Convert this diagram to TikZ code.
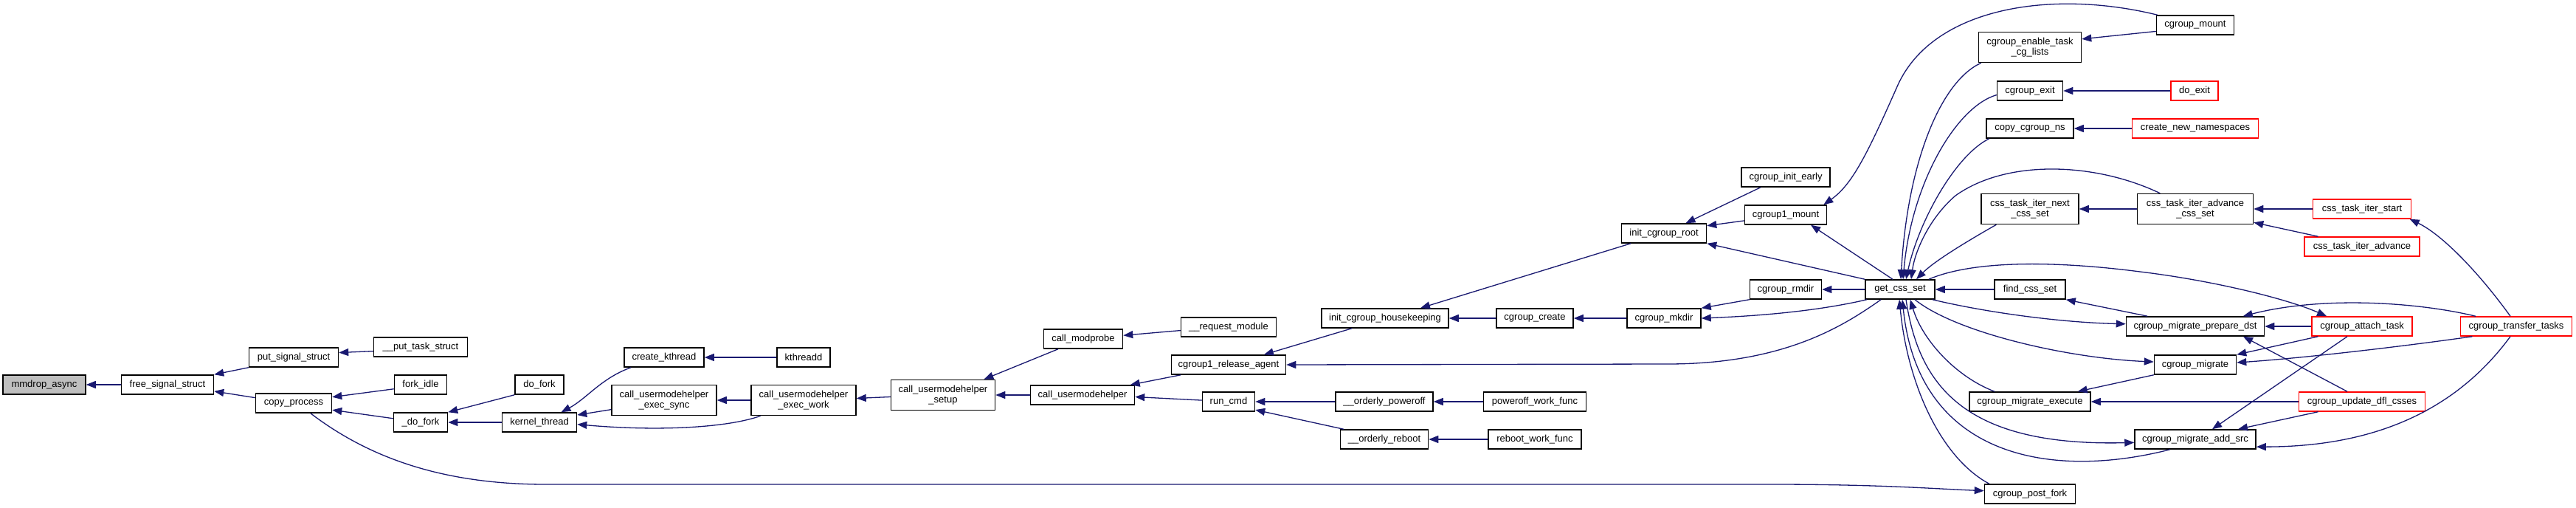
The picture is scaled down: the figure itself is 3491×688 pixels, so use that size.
\documentclass[tikz,border=0pt]{standalone}
\usepackage{fontspec}
\usepackage{tikz}
\usetikzlibrary{arrows.meta}
\newfontfamily\dxfont{Liberation Sans}
\definecolor{edgeblue}{RGB}{25,25,112}
\definecolor{rootgray}{RGB}{191,191,191}

\begin{document}
\begin{tikzpicture}[x=1pt,y=-1pt,
  fn/.style={draw=black,line width=1.5pt,fill=white,rectangle,minimum height=26pt,
    inner xsep=2pt,inner ysep=1pt,align=center,font=\dxfont\fontsize{13}{14.5}\selectfont},
  fntwo/.style={fn,minimum height=41pt},
  trunc/.style={draw=red},
  call/.style={draw=edgeblue,line width=1.3pt,-{Triangle[length=13pt,width=10pt]}}]
  \useasboundingbox (0,0) rectangle (3491,688);
  \node[fn,fill=rootgray,minimum width=112pt] (mmdrop) at (60,521) {mmdrop\_async};
  \node[fn,minimum width=125pt] (freesig) at (227,521) {free\_signal\_struct};
  \node[fn,minimum width=121pt] (putsig) at (398,484) {put\_signal\_struct};
  \node[fn,minimum width=127pt] (putts) at (570,470) {\_\_put\_task\_struct};
  \node[fn,minimum width=103pt] (copyproc) at (398,546) {copy\_process};
  \node[fn,minimum width=71pt] (forkidle) at (570,521) {fork\_idle};
  \node[fn,minimum width=73pt] (udofork) at (570,572) {\_do\_fork};
  \node[fn,minimum width=66pt] (dofork) at (731,521) {do\_fork};
  \node[fn,minimum width=101pt] (kthread) at (731,572) {kernel\_thread};
  \node[fn,minimum width=108pt] (createk) at (900,484) {create\_kthread};
  \node[fn,minimum width=72pt] (kthreadd) at (1089,484) {kthreadd};
  \node[fntwo,minimum width=142pt] (exsync) at (900,542) {call\_usermodehelper\\\_exec\_sync};
  \node[fntwo,minimum width=142pt] (exwork) at (1089,542) {call\_usermodehelper\\\_exec\_work};
  \node[fntwo,minimum width=141pt] (setup) at (1278,535) {call\_usermodehelper\\\_setup};
  \node[fn,minimum width=107pt] (modprobe) at (1468,459) {call\_modprobe};
  \node[fn,minimum width=129pt] (reqmod) at (1665,443) {\_\_request\_module};
  \node[fn,minimum width=141pt] (umh) at (1467,535) {call\_usermodehelper};
  \node[fn,minimum width=155pt] (relagent) at (1665,494) {cgroup1\_release\_agent};
  \node[fn,minimum width=71pt] (runcmd) at (1665,544) {run\_cmd};
  \node[fn,minimum width=172pt] (housek) at (1877,431) {init\_cgroup\_housekeeping};
  \node[fn,minimum width=132pt] (poweroff) at (1876,544) {\_\_orderly\_poweroff};
  \node[fn,minimum width=119pt] (reboot) at (1876,595) {\_\_orderly\_reboot};
  \node[fn,minimum width=104pt] (cgcreate) at (2080,431) {cgroup\_create};
  \node[fn,minimum width=139pt] (powerwf) at (2080,544) {poweroff\_work\_func};
  \node[fn,minimum width=126pt] (rebootwf) at (2080,595) {reboot\_work\_func};
  \node[fn,minimum width=100pt] (cgmkdir) at (2255,431) {cgroup\_mkdir};
  \node[fn,minimum width=115pt] (initroot) at (2255,316) {init\_cgroup\_root};
  \node[fn,minimum width=120pt] (initearly) at (2420,240) {cgroup\_init\_early};
  \node[fn,minimum width=111pt] (cgonemount) at (2420,291) {cgroup1\_mount};
  \node[fn,minimum width=97pt] (cgrmdir) at (2420,392) {cgroup\_rmdir};
  \node[fn,minimum width=94pt] (getcss) at (2575,392) {get\_css\_set};
  \node[fn,minimum width=105pt] (cgmount) at (2975,34) {cgroup\_mount};
  \node[fntwo,minimum width=139pt] (enabletask) at (2751,64) {cgroup\_enable\_task\\\_cg\_lists};
  \node[fn,minimum width=89pt] (cgexit) at (2751,123) {cgroup\_exit};
  \node[fn,trunc,minimum width=64pt] (doexit) at (2974,123) {do\_exit};
  \node[fn,minimum width=118pt] (copyns) at (2751,174) {copy\_cgroup\_ns};
  \node[fn,trunc,minimum width=171pt] (newns) at (2975,174) {create\_new\_namespaces};
  \node[fntwo,minimum width=132pt] (nextcss) at (2751,283) {css\_task\_iter\_next\\\_css\_set};
  \node[fntwo,minimum width=157pt] (advcss) at (2975,283) {css\_task\_iter\_advance\\\_css\_set};
  \node[fn,trunc,minimum width=133pt] (iterstart) at (3201,283) {css\_task\_iter\_start};
  \node[fn,trunc,minimum width=156pt] (iteradv) at (3201,334) {css\_task\_iter\_advance};
  \node[fn,minimum width=96pt] (findcss) at (2751,392) {find\_css\_set};
  \node[fn,minimum width=187pt] (prepdst) at (2975,442) {cgroup\_migrate\_prepare\_dst};
  \node[fn,minimum width=111pt] (migrate) at (2975,494) {cgroup\_migrate};
  \node[fn,minimum width=164pt] (execute) at (2751,544) {cgroup\_migrate\_execute};
  \node[fn,minimum width=164pt] (addsrc) at (2975,595) {cgroup\_migrate\_add\_src};
  \node[fn,minimum width=123pt] (postfork) at (2751,669) {cgroup\_post\_fork};
  \node[fn,trunc,minimum width=136pt] (attach) at (3201,442) {cgroup\_attach\_task};
  \node[fn,trunc,minimum width=171pt] (updfl) at (3201,544) {cgroup\_update\_dfl\_csses};
  \node[fn,trunc,minimum width=151pt] (transfer) at (3410,442) {cgroup\_transfer\_tasks};

  \draw[call] (freesig) -- (mmdrop);
  \draw[call] (putsig.south west) -- (freesig.north east);
  \draw[call] (copyproc.172) -- (freesig.-8);
  \draw[call] (putts.185) -- (putsig.6);
  \draw[call] (forkidle.189) -- (copyproc.9);
  \draw[call] (udofork.172) -- (copyproc.-10);
  \draw[call] (copyproc.-31) .. controls (500,620) and (600,656) .. (740,656) -- (2400,656)
    .. controls (2550,656) and (2620,662) .. (postfork.176);
  \draw[call] (dofork.south west) -- (udofork.north east);
  \draw[call] (kthread) -- (udofork);
  \draw[call] (createk.197) .. controls (815,512) and (795,540) .. (kthread.25);
  \draw[call] (exsync.190) -- (kthread.11);
  \draw[call] (exwork.200) .. controls (990,578) and (900,585) .. (kthread.-3);
  \draw[call] (kthreadd) -- (createk);
  \draw[call] (exwork) -- (exsync);
  \draw[call] (setup.182) -- (exwork.2);
  \draw[call] (modprobe.202) -- (setup.21);
  \draw[call] (umh) -- (setup);
  \draw[call] (reqmod.184) -- (modprobe.5);
  \draw[call] (relagent.192) -- (umh.12);
  \draw[call] (runcmd.177) -- (umh.-2);
  \draw[call] (housek.197) -- (relagent.16);
  \draw[call] (getcss.208) .. controls (2500,440) and (2420,493) .. (2260,493) -- (relagent.east);
  \draw[call] (poweroff) -- (runcmd);
  \draw[call] (reboot.166) -- (runcmd.-17);
  \draw[call] (powerwf) -- (poweroff);
  \draw[call] (rebootwf) -- (reboot);
  \draw[call] (initroot.197) -- (housek.16);
  \draw[call] (cgcreate) -- (housek);
  \draw[call] (cgmkdir) -- (cgcreate);
  \draw[call] (initearly.202) -- (initroot.25);
  \draw[call] (cgonemount.188) -- (initroot.10);
  \draw[call] (getcss.north west) -- (initroot.south east);
  \draw[call] (cgmount.165) .. controls (2780,-15) and (2620,10) .. (2572,115)
    .. controls (2530,210) and (2510,250) .. (cgonemount.15);
  \draw[call] (getcss.126) -- (cgonemount.-22);
  \draw[call] (cgrmdir.south west) -- (cgmkdir.north east);
  \draw[call] (getcss.197) .. controls (2460,422) and (2380,428) .. (cgmkdir.east);
  \draw[call] (getcss) -- (cgrmdir);
  \draw[call] ([xshift=4pt]enabletask.south west) .. controls (2630,110) and (2585,220) .. ([xshift=1pt]getcss.north);
  \draw[call] (cgexit.187) .. controls (2650,145) and (2590,250) .. ([xshift=4pt]getcss.north);
  \draw[call] (copyns.194) .. controls (2650,210) and (2600,300) .. ([xshift=8pt]getcss.north);
  \draw[call] (nextcss.205) .. controls (2660,330) and (2620,355) .. ([xshift=22pt]getcss.north);
  \draw[call] (advcss.156) .. controls (2840,220) and (2720,215) .. (2650,265)
    .. controls (2615,295) and (2595,340) .. ([xshift=15pt]getcss.north);
  \draw[call] (findcss) -- (getcss);
  \draw[call] (execute.164) .. controls (2650,510) and (2605,460) .. (getcss.-45);
  \draw[call] ([xshift=8pt]getcss.south) .. controls (2600,520) and (2660,605) .. (addsrc.183);
  \draw[call] (addsrc.202) .. controls (2780,650) and (2600,620) .. ([xshift=3pt]getcss.south);
  \draw[call] (postfork.166) .. controls (2630,620) and (2585,520) .. ([xshift=-1pt]getcss.south);
  \draw[call] ([xshift=-4pt]getcss.south east) .. controls (2700,425) and (2800,437) .. (prepdst.178);
  \draw[call] ([xshift=20pt]getcss.south) .. controls (2650,450) and (2800,485) .. (migrate.176);
  \draw[call] ([xshift=-9pt]getcss.north east) .. controls (2680,350) and (2800,355) .. (2900,368)
    .. controls (3000,380) and (3100,405) .. (attach.164);
  \draw[call] (prepdst.168) -- (findcss.south east);
  \draw[call] (migrate.south west) -- (execute.12);
  \draw[call] (updfl) -- (execute);
  \draw[call] (attach) -- (prepdst);
  \draw[call] (transfer.166) .. controls (3280,410) and (3150,400) .. (prepdst.12);
  \draw[call] ([xshift=-20pt]updfl.north) -- ([xshift=65pt]prepdst.south);
  \draw[call] (attach.193) -- (migrate.north east);
  \draw[call] (transfer.193) .. controls (3250,470) and (3120,485) .. (migrate.3);
  \draw[call] ([xshift=-20pt]attach.south) -- ([xshift=23pt]addsrc.north);
  \draw[call] (updfl.193) -- ([xshift=58pt]addsrc.north);
  \draw[call] ([xshift=-8pt]transfer.south) .. controls (3340,540) and (3240,605) .. (addsrc.-7);
  \draw[call] (advcss) -- (nextcss);
  \draw[call] (iterstart) -- (advcss);
  \draw[call] (iteradv.167) -- (advcss.-13);
  \draw[call] ([xshift=-8pt]transfer.north) .. controls (3360,370) and (3310,318) .. (iterstart.-12);
  \draw[call] (cgmount.189) -- (enabletask.9);
  \draw[call] (doexit) -- (cgexit);
  \draw[call] (newns) -- (copyns);
\end{tikzpicture}
\end{document}
